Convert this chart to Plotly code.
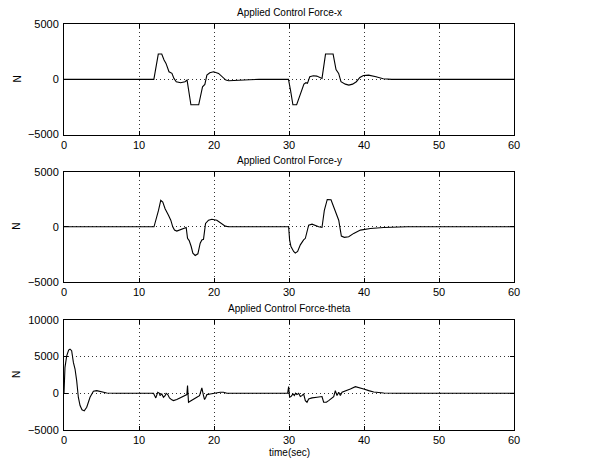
import plotly.graph_objects as go

# ---------------- data ----------------
time_x = [0, 11.98, 12.57, 13.03, 13.34, 13.6, 14.0, 14.39, 14.66, 14.97, 15.55, 16.13, 16.41,
          16.92, 17.96, 18.47, 18.78, 19.05, 19.44, 19.95, 20.61, 21.11, 21.58, 21.97, 23.13,
          24.7, 26.0, 29.93, 30.2, 30.52, 31.02, 31.49, 31.99, 32.26, 32.46, 32.77, 33.24,
          33.7, 34.4, 34.87, 35.88, 36.27, 36.62, 36.93, 37.51, 37.98, 38.48, 38.98, 39.45,
          39.92, 40.62, 41.6, 42.56, 43.7, 60]
force_x = [0, 0, 2300, 2300, 1755, 1450, 690, 545, 90, -210, -300, -210, -60,
           -2300, -2300, -670, -460, 390, 600, 690, 545, 240, -60, -120, -60,
           -30, 0, 0, -970, -2300, -2300, -1430, -430, -300, -360, 240, 330,
           300, 90, 2300, 2300, 900, 545, -210, -430, -520, -430, -210, 180,
           360, 390, 240, 60, 0, 0]

time_y = [0, 12.0, 12.6, 12.9, 13.17, 13.48, 13.93, 14.24, 14.5, 14.73, 15.04, 15.7, 16.29,
          16.47, 16.69, 16.96, 17.18, 17.49, 17.85, 18.16, 18.38, 18.6, 18.87, 19.27, 19.72,
          20.38, 21.05, 21.5, 21.94, 29.95, 30.08, 30.26, 30.62, 30.84, 31.15, 31.51, 31.95,
          32.18, 32.62, 33.07, 33.96, 34.4, 34.71, 34.98, 35.1, 35.6, 35.87, 36.18, 36.63,
          36.98, 37.38, 37.96, 38.63, 39.52, 40.85, 42.63, 45.75, 60]
force_y = [0, 0, 1490, 2400, 2240, 1640, 1045, 600, 0, -300, -390, -240, -60,
           -1045, -1250, -1790, -2390, -2600, -2450, -1490, -1190, -1130, 300, 600, 690,
           600, 300, 60, 0, 0, -1190, -1790, -2240, -2390, -2240, -1640, -1190,
           -1045, 150, 240, 0, -60, 1490, 2390, 2480, 2450, 1940, 1340, 600,
           -840, -955, -900, -600, -300, -150, -60, 0, 0]

time_theta = [0, 0.13, 0.36, 0.62, 0.8, 1.02, 1.25, 1.47, 1.69, 1.91, 2.14, 2.4, 2.7, 3.03, 3.47,
              3.92, 4.36, 5.03, 5.7, 7.03, 11.93, 12.24, 12.37, 12.5, 12.73, 12.8, 13.04,
              13.26, 13.48, 13.62, 13.84, 14.06, 14.37, 14.6, 15.04, 15.7, 16.38, 16.47,
              16.6, 16.82, 17.27, 17.71, 18.07, 18.25, 18.38, 18.6, 18.74, 18.91, 19.05,
              19.49, 19.94, 20.83, 21.27, 21.72, 29.82, 29.95, 30.08, 30.26, 30.53, 30.71,
              30.89, 31.06, 31.29, 31.51, 31.73, 31.95, 32.18, 32.4, 32.62, 33.07, 33.73,
              34.4, 34.62, 34.98, 35.29, 35.74, 35.96, 36.18, 36.4, 36.63, 36.85, 37.07,
              37.52, 38.18, 38.85, 39.3, 39.96, 40.63, 41.3, 42.63, 44.4, 60]
force_theta = [0, 3530, 5100, 5880, 6010, 5790, 4200, 3300, 1720, -540, -1670, -2250, -2400, -1900, -540,
               270, 360, 180, 45, 0, 0, -630, -180, 135, 0, -320, -90,
               -540, -320, 0, -180, -630, -900, -1000, -860, -540, -180, 1040,
               -1220, -1080, -860, -540, -320, 135, 720, -320, -860, -540, -180,
               -90, 0, 135, 135, 0, 0, 900, -540, -450, -90, -320,
               0, -180, 0, -450, -320, -90, -1000, -1220, -770, -630, -540,
               -450, -1220, -1220, -1000, -630, -450, 360, -320, 135, -320, 135,
               360, 590, 900, 810, 590, 360, 180, 45, 0, 0]

titles = ["Applied Control Force-x", "Applied Control Force-y", "Applied Control Force-theta"]
x_ticks = [0, 10, 20, 30, 40, 50, 60]
y_ticks_xy = [-5000, 0, 5000]
y_ticks_theta = [-5000, 0, 5000, 10000]
y_range_xy = [-5000, 5000]
y_range_theta = [-5000, 10000]
y_label = "N"
x_label = "time(sec)"

# ---------------- layout helpers ----------------
W, H = 598, 461
ML, MR = 64, 84
FONT = "Liberation Sans, Arial, Helvetica, sans-serif"
FS = 10
FS_TICK = 11

# pixel extents (top, bottom) of each plot area
plot_px = [(24.3, 134.5), (171.7, 281.9), (319.8, 430.0)]
title_px = [12.5, 160.0, 308.0]

def dom(top, bot):
    return [1 - bot / H, 1 - top / H]

def tick_text(v):
    return [("\u2212" + str(-x)) if x < 0 else str(x) for x in v]

fig = go.Figure()
series = [(time_x, force_x), (time_y, force_y), (time_theta, force_theta)]
for i, (tx, fy) in enumerate(series):
    fig.add_trace(go.Scatter(x=tx, y=fy, mode="lines",
                             line=dict(color="black", width=1.1),
                             xaxis="x" if i == 0 else f"x{i+1}",
                             yaxis="y" if i == 0 else f"y{i+1}",
                             showlegend=False, hoverinfo="skip"))

axis_common = dict(showline=True, linecolor="black", linewidth=1, mirror="ticks",
                   ticks="inside", ticklen=4, tickcolor="black", tickwidth=1,
                   showgrid=True, gridcolor="#333333", gridwidth=1, griddash="1px,3px",
                   zeroline=False, automargin=False,
                   tickfont=dict(family=FONT, size=FS_TICK, color="black"))

layout = dict(width=W, height=H, margin=dict(l=ML, r=MR, t=0, b=0, pad=0),
              paper_bgcolor="white", plot_bgcolor="white",
              font=dict(family=FONT, size=FS, color="black"), showlegend=False)

annotations = []
for i in range(3):
    sfx = "" if i == 0 else str(i + 1)
    yt = y_ticks_theta if i == 2 else y_ticks_xy
    yr = y_range_theta if i == 2 else y_range_xy
    layout["xaxis" + sfx] = dict(axis_common, domain=[0, 1], range=[0, 60],
                                 tickvals=x_ticks, ticktext=[str(v) for v in x_ticks],
                                 anchor="y" + sfx)
    layout["yaxis" + sfx] = dict(axis_common, domain=dom(*plot_px[i]), range=yr,
                                 tickvals=yt, ticktext=tick_text(yt),
                                 ticklabelstandoff=2, anchor="x" + sfx)
    annotations.append(dict(text=titles[i], xref="paper", yref="paper",
                            x=0.5, y=1 - title_px[i] / H, xanchor="center", yanchor="middle",
                            showarrow=False, font=dict(family=FONT, size=FS, color="black")))
    ymid = (plot_px[i][0] + plot_px[i][1]) / 2
    annotations.append(dict(text=y_label, xref="paper", yref="paper",
                            x=(17 - ML) / (W - ML - MR), y=1 - ymid / H,
                            xanchor="center", yanchor="middle", textangle=-90,
                            showarrow=False, font=dict(family=FONT, size=FS, color="black")))

annotations.append(dict(text=x_label, xref="paper", yref="paper",
                        x=0.5, y=1 - 452.5 / H, xanchor="center", yanchor="middle",
                        showarrow=False, font=dict(family=FONT, size=FS, color="black")))
layout["annotations"] = annotations
fig.update_layout(**layout)
fig.write_html("out.html", config={"displayModeBar": False},
               post_script="document.body.style.margin='0px';document.body.style.overflow='hidden';")
